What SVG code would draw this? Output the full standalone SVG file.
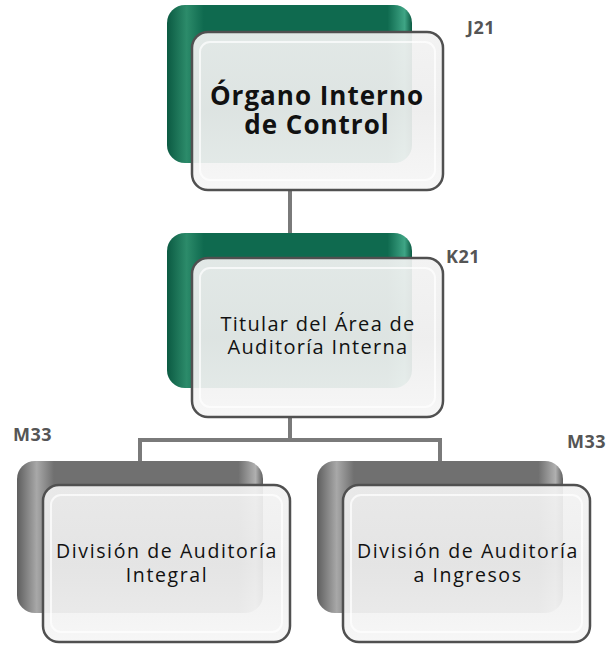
<svg xmlns="http://www.w3.org/2000/svg" width="614" height="646" viewBox="0 0 614 646">
<defs>
<linearGradient id="gGreen" x1="0" y1="0" x2="1" y2="0">
<stop offset="0" stop-color="#0b5a42"/><stop offset="0.08" stop-color="#2c8b6a"/><stop offset="0.15" stop-color="#0f6a4f"/><stop offset="0.9" stop-color="#0f6a4f"/><stop offset="0.97" stop-color="#3fa585"/><stop offset="1" stop-color="#0b5a42"/>
</linearGradient>
<linearGradient id="gGray" x1="0" y1="0" x2="1" y2="0">
<stop offset="0" stop-color="#5e5e5e"/><stop offset="0.08" stop-color="#a8a8a8"/><stop offset="0.15" stop-color="#707070"/><stop offset="0.9" stop-color="#707070"/><stop offset="0.97" stop-color="#b0b0b0"/><stop offset="1" stop-color="#5e5e5e"/>
</linearGradient>
<linearGradient id="gFront" x1="0" y1="0" x2="0" y2="1">
<stop offset="0" stop-color="#f2f2f2"/><stop offset="0.5" stop-color="#ededed"/><stop offset="1" stop-color="#f6f6f6"/>
</linearGradient>
</defs>
<style>
.conn{fill:none;stroke:#7a7a7a;stroke-width:4}
.backG{fill:url(#gGreen)}
.backK{fill:url(#gGray)}
.front{fill:url(#gFront);fill-opacity:0.93;stroke:#505050;stroke-width:2.5}
.inner{fill:none;stroke:#ffffff;stroke-opacity:0.7;stroke-width:2}
.t{font-family:"Open Sans","Liberation Sans",sans-serif;fill:#111;text-anchor:middle}
.code{font-family:"Open Sans","Liberation Sans",sans-serif;font-weight:bold;font-size:18px;letter-spacing:0.5px;fill:#555}
</style>
<g id="connectors">
<path class="conn" d="M290 190 V235"/>
<path class="conn" d="M290 417 V440 H140 V462 M290 440 H440 V462"/>
</g>
<g id="n-organo">
<rect class="backG" x="167" y="5" width="245" height="158" rx="18"/>
<rect class="front" x="192" y="32" width="251" height="158" rx="16"/>
<rect class="inner" x="200" y="42" width="235" height="138" rx="10"/>
<text class="t" font-size="26" font-weight="bold" letter-spacing="1" x="317" y="105">Órgano Interno</text>
<text class="t" font-size="26" font-weight="bold" letter-spacing="1" x="317" y="134">de Control</text>
<text class="code" x="467" y="34">J21</text>
</g>
<g id="n-titular">
<rect class="backG" x="167" y="233" width="245" height="155" rx="18"/>
<rect class="front" x="192" y="258" width="251" height="159" rx="16"/>
<rect class="inner" x="200" y="268" width="235" height="139" rx="10"/>
<text class="t" font-size="20" letter-spacing="1.3" x="318" y="331">Titular del Área de</text>
<text class="t" font-size="20" letter-spacing="1.3" x="318" y="354">Auditoría Interna</text>
<text class="code" x="446" y="263">K21</text>
</g>
<g id="n-integral">
<rect class="backK" x="17" y="461" width="246" height="152" rx="18"/>
<rect class="front" x="43" y="485" width="247" height="157" rx="16"/>
<rect class="inner" x="51" y="495" width="231" height="137" rx="10"/>
<text class="t" font-size="19.5" letter-spacing="1.6" x="167" y="558">División de Auditoría</text>
<text class="t" font-size="19.5" letter-spacing="1.6" x="167" y="582">Integral</text>
<text class="code" x="13" y="441">M33</text>
</g>
<g id="n-ingresos">
<rect class="backK" x="317" y="461" width="246" height="152" rx="18"/>
<rect class="front" x="343" y="485" width="247" height="157" rx="16"/>
<rect class="inner" x="351" y="495" width="231" height="137" rx="10"/>
<text class="t" font-size="19.5" letter-spacing="1.6" x="468" y="558">División de Auditoría</text>
<text class="t" font-size="19.5" letter-spacing="1.6" x="468" y="582">a Ingresos</text>
<text class="code" x="567" y="448">M33</text>
</g>
</svg>
